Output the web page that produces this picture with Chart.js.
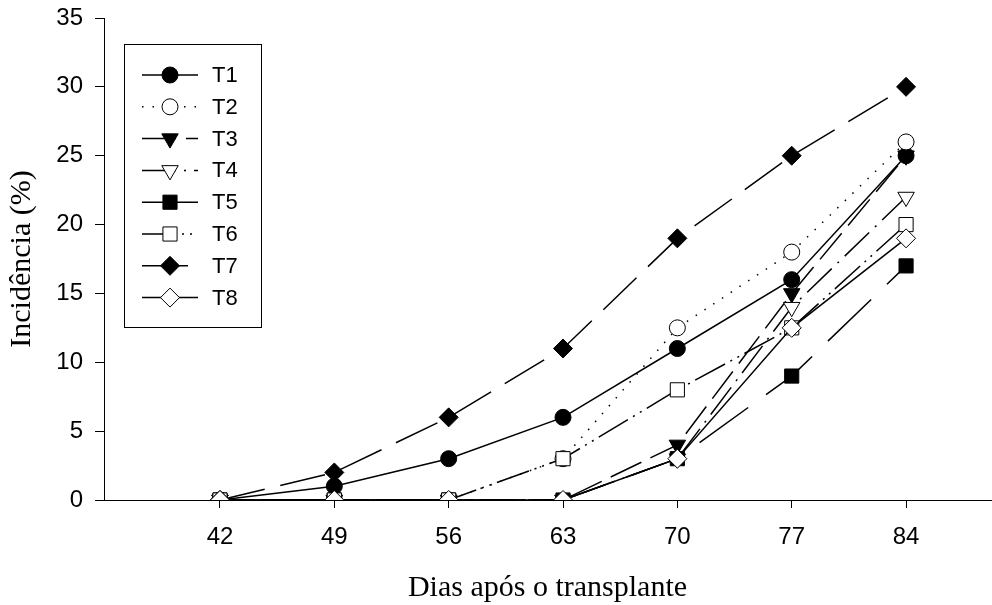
<!DOCTYPE html>
<html>
<head>
<meta charset="utf-8">
<script src="https://cdn.jsdelivr.net/npm/chart.js@4/dist/chart.umd.min.js"></script>
<style>
html, body { margin: 0; padding: 0; background: #fff; }
canvas { display: block; }
</style>
</head>
<body>
<canvas id="grafico" width="992" height="605"></canvas>
<script>
(function () {

// dados
var dias = [42, 49, 56, 63, 70, 77, 84];
var yTicks = [0, 5, 10, 15, 20, 25, 30, 35];
var nomes = ['T1', 'T2', 'T3', 'T4', 'T5', 'T6', 'T7', 'T8'];
var t1 = [0, 1, 3, 6, 11, 16, 25];
var t2 = [0, 0, 0, 3, 12.5, 18, 26];
var t3 = [0, 0, 0, 0, 4, 15, 25];
var t4 = [0, 0, 0, 0, 3, 14, 22];
var t5 = [0, 0, 0, 0, 3, 9, 17];
var t6 = [0, 0, 0, 3, 8, 12.5, 20];
var t7 = [0, 2, 6, 11, 19, 25, 30];
var t8 = [0, 0, 0, 0, 3, 12.5, 19];
var series = [t1, t2, t3, t4, t5, t6, t7, t8];

// estilo de cada tratamento (marcador, preenchimento, traço)
var estilos = [
    { ponto: 'circle',   raio: 8,   rot: 0,   cor: '#000', traco: [] },
    { ponto: 'circle',   raio: 8,   rot: 0,   cor: '#fff', traco: [1.5, 9] },
    { ponto: 'triangle', raio: 9.5, rot: 180, cor: '#000', traco: [34, 10] },
    { ponto: 'triangle', raio: 9.5, rot: 180, cor: '#fff', traco: [34, 8, 2, 8] },
    { ponto: 'rect',     raio: 10,  rot: 0,   cor: '#000', traco: [60, 22] },
    { ponto: 'rect',     raio: 10,  rot: 0,   cor: '#fff', traco: [34, 6, 2, 6, 2, 6] },
    { ponto: 'rectRot',  raio: 9.5, rot: 0,   cor: '#000', traco: [46, 16] },
    { ponto: 'rectRot',  raio: 9.5, rot: 0,   cor: '#fff', traco: [] }
];

var datasets = series.map(function (vals, i) {
    var e = estilos[i];
    return {
        label: nomes[i],
        data: vals.map(function (v, k) { return { x: dias[k], y: v }; }),
        borderColor: '#000',
        borderWidth: 1.5,
        borderDash: e.traco,
        pointStyle: e.ponto,
        pointRadius: e.raio,
        pointRotation: e.rot,
        pointBackgroundColor: e.cor,
        pointBorderColor: '#000',
        pointBorderWidth: 1,
        pointHoverRadius: e.raio,
        fill: false,
        tension: 0,
        order: series.length - i // T8 por cima
    };
});

// -------------------------------------------------------------------------------------------------------
// legenda em caixa dentro da área do gráfico
var legenda = {
    id: 'legenda',
    afterDraw: function (chart) {
        var ctx = chart.ctx, a = chart.chartArea;
        var bx = a.left + 20, by = a.top + 26, bw = 137, bh = 283;
        ctx.save();
        ctx.fillStyle = '#fff';
        ctx.fillRect(bx, by, bw, bh);
        ctx.strokeStyle = '#000';
        ctx.lineWidth = 1;
        ctx.strokeRect(bx + 0.5, by + 0.5, bw, bh);
        chart.data.datasets.forEach(function (ds, i) {
            var y = by + 31 + i * 31.8;
            ctx.strokeStyle = '#000';
            ctx.lineWidth = ds.borderWidth;
            ctx.setLineDash(ds.borderDash);
            ctx.beginPath();
            ctx.moveTo(bx + 18, y);
            ctx.lineTo(bx + 74, y);
            ctx.stroke();
            ctx.setLineDash([]);
            ctx.fillStyle = ds.pointBackgroundColor;
            ctx.lineWidth = 1;
            Chart.helpers.drawPoint(ctx, {
                pointStyle: ds.pointStyle,
                radius: ds.pointRadius,
                rotation: ds.pointRotation,
                borderWidth: 1
            }, bx + 46, y);
            ctx.fillStyle = '#000';
            ctx.font = '22px "Liberation Sans", Arial, sans-serif';
            ctx.textBaseline = 'middle';
            ctx.textAlign = 'left';
            ctx.fillText(ds.label, bx + 88, y + 1);
        });
        ctx.restore();
    }
};

var fonteEixo = { family: '"Liberation Sans", Arial, sans-serif', size: 24 };
var fonteTitulo = { family: '"Liberation Serif", "Times New Roman", serif', size: 30, lineHeight: 1.1 };

new Chart(document.getElementById('grafico').getContext('2d'), {
    type: 'line',
    data: { datasets: datasets },
    plugins: [legenda],
    options: {
        responsive: false,
        animation: false,
        events: [],
        layout: { autoPadding: false, padding: { left: 0, top: 18, right: 1, bottom: 0 } },
        plugins: {
            legend: { display: false },
            tooltip: { enabled: false }
        },
        scales: {
            x: {
                type: 'linear',
                bounds: 'data',
                min: 34.9,
                max: 89.2,
                afterBuildTicks: function (scale) {
                    scale.ticks = dias.map(function (v) { return { value: v }; });
                },
                afterFit: function (scale) {
                    scale.height = 105;
                    scale.paddingLeft = 0;
                    scale.paddingRight = 0;
                },
                grid: { drawOnChartArea: false, tickLength: 8, color: '#000', tickWidth: 1 },
                border: { display: true, color: '#000', width: 1 },
                ticks: { color: '#000', font: fonteEixo, padding: 15, maxRotation: 0 },
                title: {
                    display: true,
                    text: 'Dias após o transplante',
                    color: '#000',
                    font: fonteTitulo,
                    padding: { top: 0, bottom: 0 }
                }
            },
            y: {
                min: 0,
                max: 35,
                bounds: 'data',
                afterBuildTicks: function (scale) {
                    scale.ticks = yTicks.map(function (v) { return { value: v }; });
                },
                afterFit: function (scale) {
                    scale.width = 104;
                    scale.paddingTop = 0;
                    scale.paddingBottom = 0;
                },
                grid: { drawOnChartArea: false, tickLength: 9, color: '#000', tickWidth: 1 },
                border: { display: true, color: '#000', width: 1 },
                ticks: { color: '#000', font: fonteEixo, padding: 12 },
                title: {
                    display: true,
                    text: 'Incidência (%)',
                    color: '#000',
                    font: fonteTitulo,
                    padding: { top: 6, bottom: 0 }
                }
            }
        }
    }
});
// -------------------------------------------------------------------------------------------------------

})();
</script>
</body>
</html>
